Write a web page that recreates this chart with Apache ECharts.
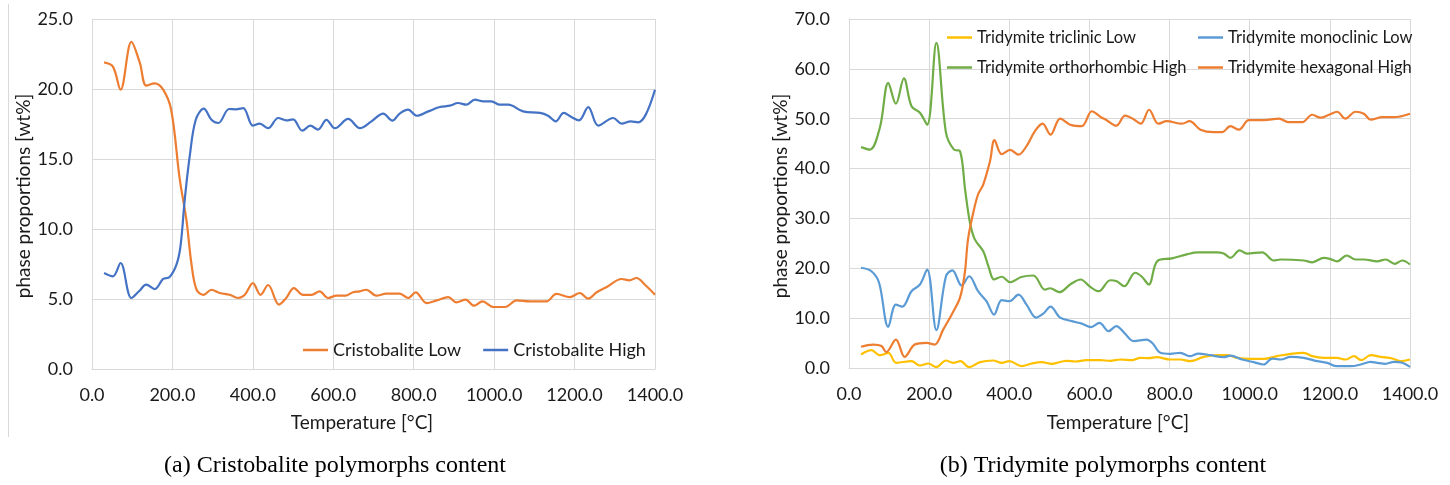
<!DOCTYPE html>
<html>
<head>
<meta charset="utf-8">
<title>Cristobalite and tridymite polymorphs content</title>
<script src="https://cdn.jsdelivr.net/npm/echarts@6/dist/echarts.min.js"></script>
<style>
  html, body { margin: 0; padding: 0; background: #ffffff; }
  #chart { width: 1450px; height: 485px; }
</style>
</head>
<body>
<div id="chart"></div>
<script>
// ---- Cristobalite (panel a) ----
const crisLowT = [30, 52, 71, 98, 119, 135, 156, 177, 197, 218, 235, 247, 260, 278, 297, 318, 342, 363, 380, 400, 419, 438, 465, 483, 502, 525, 546, 566, 587, 608, 630, 649, 666, 682, 707, 732, 765, 786, 805, 832, 857, 886, 906, 929, 950, 971, 998, 1027, 1056, 1089, 1130, 1155, 1188, 1213, 1234, 1255, 1280, 1317, 1336, 1354, 1375, 1400];
const crisLowV = [21.9, 21.6, 19.95, 23.36, 21.86, 20.24, 20.4, 19.95, 18.5, 13.6, 10.6, 7.57, 5.66, 5.3, 5.66, 5.43, 5.3, 5.07, 5.3, 6.14, 5.3, 6.0, 4.6, 5.07, 5.78, 5.3, 5.3, 5.55, 5.07, 5.24, 5.24, 5.48, 5.55, 5.66, 5.24, 5.38, 5.38, 5.07, 5.48, 4.71, 4.9, 5.14, 4.76, 4.95, 4.52, 4.83, 4.43, 4.43, 4.9, 4.83, 4.83, 5.36, 5.14, 5.43, 5.02, 5.48, 5.86, 6.43, 6.33, 6.5, 6.02, 5.3];

const crisHighT = [30, 52, 71, 98, 117, 135, 156, 177, 193, 210, 220, 231, 243, 258, 278, 297, 314, 341, 358, 376, 400, 417, 438, 463, 483, 500, 523, 543, 562, 583, 604, 637, 666, 695, 724, 747, 765, 786, 808, 836, 865, 890, 910, 931, 952, 973, 993, 1014, 1035, 1072, 1114, 1134, 1153, 1173, 1192, 1211, 1234, 1259, 1296, 1317, 1340, 1358, 1377, 1400];
const crisHighV = [6.86, 6.62, 7.57, 5.07, 5.55, 6.02, 5.71, 6.43, 6.57, 7.45, 8.76, 12.2, 15.2, 17.8, 18.6, 17.8, 17.57, 18.57, 18.55, 18.64, 17.38, 17.52, 17.2, 17.93, 17.76, 17.83, 17.02, 17.38, 17.1, 17.8, 17.2, 17.86, 17.2, 17.69, 18.24, 17.74, 18.24, 18.52, 18.09, 18.4, 18.71, 18.81, 19.0, 18.88, 19.24, 19.12, 19.12, 18.88, 18.88, 18.4, 18.29, 18.09, 17.69, 18.29, 18.0, 17.76, 18.71, 17.38, 17.93, 17.52, 17.69, 17.62, 18.17, 19.95];

// ---- Tridymite (panel b) ----
const triclinicT = [30, 56, 77, 98, 118, 156, 177, 198, 218, 242, 260, 278, 300, 327, 360, 381, 400, 431, 456, 481, 506, 543, 564, 593, 627, 652, 677, 706, 727, 748, 768, 802, 827, 852, 885, 918, 943, 968, 1002, 1035, 1068, 1102, 1135, 1156, 1185, 1218, 1239, 1260, 1278, 1302, 1327, 1356, 1377, 1400];
const triclinicV = [2.7, 3.57, 2.57, 3.05, 1.04, 1.37, 0.5, 0.9, 0.17, 1.5, 1.04, 1.37, 0.17, 1.17, 1.5, 1.04, 1.37, 0.37, 0.9, 1.17, 0.84, 1.44, 1.3, 1.57, 1.57, 1.44, 1.7, 1.57, 2.04, 1.97, 2.17, 1.7, 1.7, 1.37, 2.24, 2.57, 2.57, 2.04, 1.84, 1.84, 2.37, 2.85, 3.05, 2.37, 2.04, 2.04, 1.7, 2.37, 1.57, 2.57, 2.24, 1.9, 1.37, 1.7];

const monoclinicT = [30, 56, 75, 98, 117, 133, 156, 177, 195, 218, 242, 258, 281, 300, 322, 343, 362, 381, 400, 423, 443, 467, 485, 503, 527, 556, 581, 604, 625, 648, 667, 687, 710, 743, 758, 777, 802, 827, 850, 872, 902, 935, 952, 981, 1010, 1035, 1056, 1077, 1102, 1135, 1168, 1193, 1218, 1252, 1277, 1302, 1318, 1339, 1360, 1381, 1400];
const monoclinicV = [20.1, 19.4, 17.1, 8.26, 12.7, 12.3, 15.4, 16.75, 19.75, 7.6, 18.4, 19.6, 16.55, 18.4, 15.4, 13.4, 10.7, 13.6, 13.4, 14.7, 12.7, 10.1, 10.9, 12.3, 10.1, 9.4, 8.9, 8.2, 9.06, 7.4, 8.4, 7.06, 5.4, 5.7, 4.9, 3.05, 2.85, 3.05, 2.37, 2.9, 2.57, 2.17, 2.5, 1.7, 1.17, 0.7, 1.9, 1.7, 2.24, 2.04, 1.37, 1.04, 0.37, 0.37, 0.7, 1.24, 1.04, 0.84, 1.24, 1.04, 0.24];

const orthorhombicT = [30, 52, 77, 98, 117, 137, 156, 177, 195, 218, 242, 262, 277, 290, 302, 314, 335, 348, 362, 381, 402, 430, 460, 489, 502, 525, 552, 578, 600, 623, 652, 668, 687, 714, 731, 748, 770, 806, 843, 870, 918, 935, 952, 975, 993, 1031, 1060, 1077, 1135, 1156, 1185, 1200, 1218, 1242, 1264, 1285, 1318, 1339, 1362, 1381, 1400];
const orthorhombicV = [44.3, 43.8, 48.2, 57.2, 53.0, 58.1, 52.5, 51.2, 48.8, 65.2, 47.2, 43.8, 43.5, 35.6, 29.1, 25.8, 23.4, 20.4, 17.75, 18.3, 17.2, 18.25, 18.55, 15.7, 16.0, 15.2, 16.75, 17.75, 16.4, 15.4, 17.6, 17.4, 16.4, 19.1, 18.3, 16.75, 21.5, 22.0, 22.8, 23.2, 23.2, 22.96, 22.1, 23.6, 22.96, 23.2, 21.56, 21.76, 21.56, 21.2, 22.1, 21.9, 21.4, 22.56, 21.76, 21.76, 21.4, 21.76, 20.9, 21.56, 20.76];

const hexagonalT = [30, 60, 81, 93, 117, 139, 164, 193, 214, 235, 256, 277, 289, 297, 310, 322, 335, 352, 363, 381, 402, 423, 443, 464, 483, 503, 527, 552, 581, 606, 627, 643, 667, 689, 708, 728, 749, 772, 793, 831, 850, 877, 910, 931, 952, 973, 998, 1035, 1073, 1098, 1131, 1156, 1177, 1198, 1218, 1239, 1264, 1285, 1302, 1331, 1360, 1400];
const hexagonalV = [4.25, 4.7, 4.4, 3.2, 5.7, 2.24, 4.7, 5.05, 4.7, 7.7, 10.7, 14.1, 19.1, 25.8, 31.1, 34.8, 36.8, 41.5, 45.7, 42.9, 43.75, 42.8, 44.5, 47.5, 49.0, 46.8, 50.0, 48.8, 48.5, 51.5, 50.4, 49.7, 48.6, 50.6, 50.0, 49.0, 51.8, 49.0, 49.5, 49.0, 49.5, 47.8, 47.3, 47.3, 48.5, 47.8, 49.7, 49.7, 50.0, 49.3, 49.3, 50.8, 50.2, 50.8, 51.4, 50.0, 51.4, 51.0, 49.8, 50.3, 50.3, 51.0];

// Axis ranges
const xMin = 0, xMax = 1400, xStep = 200;
const yMaxA = 25, yStepA = 5;
const yMaxB = 70, yStepB = 10;

const pairs = (t, v) => t.map((x, i) => [x, v[i]]);

const FONT = 'Lato';
const TEXT = '#1a1a1a';
const GRIDLINE = '#d9d9d9';

function xAxis(gridIndex) {
  return {
    type: 'value', gridIndex, min: xMin, max: xMax, interval: xStep,
    axisLine: { show: true, lineStyle: { color: GRIDLINE, width: 1 } },
    axisTick: { show: false },
    splitLine: { show: true, lineStyle: { color: GRIDLINE, width: 1 } },
    axisLabel: { color: TEXT, fontFamily: FONT, fontSize: 18, margin: 17,
                 formatter: v => v.toFixed(1) }
  };
}
function yAxis(gridIndex, max, step) {
  return {
    type: 'value', gridIndex, min: 0, max, interval: step,
    axisLine: { show: true, lineStyle: { color: GRIDLINE, width: 1 } },
    axisTick: { show: false },
    splitLine: { show: true, lineStyle: { color: GRIDLINE, width: 1 } },
    axisLabel: { color: TEXT, fontFamily: FONT, fontSize: 18, margin: 19,
                 formatter: v => v.toFixed(1) }
  };
}
function line(name, xi, yi, data, color) {
  return {
    name, type: 'line', xAxisIndex: xi, yAxisIndex: yi, data,
    smooth: 0.35, symbol: 'none', showSymbol: false,
    lineStyle: { color, width: 2.2 }, itemStyle: { color },
    animation: false
  };
}
const legendBase = {
  icon: 'rect', itemWidth: 25, itemHeight: 2.5, selectedMode: false
};

const chart = echarts.init(document.getElementById('chart'), null, { renderer: 'canvas' });
chart.setOption({
  backgroundColor: '#ffffff',
  animation: false,
  grid: [
    { left: 92, top: 19, width: 563, height: 350 },
    { left: 849, top: 19, width: 561, height: 349 }
  ],
  xAxis: [xAxis(0), xAxis(1)],
  yAxis: [yAxis(0, yMaxA, yStepA), yAxis(1, yMaxB, yStepB)],
  legend: [
    Object.assign({}, legendBase, {
      data: ['Cristobalite Low', 'Cristobalite High'], left: 298, top: 336,
      orient: 'horizontal', itemGap: 22,
      textStyle: { color: TEXT, fontFamily: FONT, fontSize: 18 } }),
    Object.assign({}, legendBase, {
      data: ['Tridymite triclinic Low', 'Tridymite orthorhombic High'], left: 942, top: 24,
      orient: 'vertical', itemGap: 13,
      textStyle: { color: TEXT, fontFamily: FONT, fontSize: 16.5 } }),
    Object.assign({}, legendBase, {
      data: ['Tridymite monoclinic Low', 'Tridymite hexagonal High'], left: 1193, top: 24,
      orient: 'vertical', itemGap: 13,
      textStyle: { color: TEXT, fontFamily: FONT, fontSize: 16.5 } })
  ],
  series: [
    line('Cristobalite Low', 0, 0, pairs(crisLowT, crisLowV), '#ED7D31'),
    line('Cristobalite High', 0, 0, pairs(crisHighT, crisHighV), '#4472C4'),
    line('Tridymite triclinic Low', 1, 1, pairs(triclinicT, triclinicV), '#FFC000'),
    line('Tridymite monoclinic Low', 1, 1, pairs(monoclinicT, monoclinicV), '#5B9BD5'),
    line('Tridymite orthorhombic High', 1, 1, pairs(orthorhombicT, orthorhombicV), '#70AD47'),
    line('Tridymite hexagonal High', 1, 1, pairs(hexagonalT, hexagonalV), '#ED7D31')
  ],
  graphic: [
    { type: 'line', shape: { x1: 8.5, y1: 4, x2: 8.5, y2: 437 },
      style: { stroke: GRIDLINE, lineWidth: 1 } },
    { type: 'text', x: 24, y: 196, rotation: Math.PI / 2,
      style: { text: 'phase proportions [wt%]', fill: TEXT, font: '19px ' + FONT,
               textAlign: 'center', textVerticalAlign: 'middle' } },
    { type: 'text', x: 781, y: 196, rotation: Math.PI / 2,
      style: { text: 'phase proportions [wt%]', fill: TEXT, font: '19px ' + FONT,
               textAlign: 'center', textVerticalAlign: 'middle' } },
    { type: 'text', x: 362, y: 423,
      style: { text: 'Temperature [°C]', fill: TEXT, font: '19px ' + FONT,
               textAlign: 'center', textVerticalAlign: 'middle' } },
    { type: 'text', x: 1118, y: 423,
      style: { text: 'Temperature [°C]', fill: TEXT, font: '19px ' + FONT,
               textAlign: 'center', textVerticalAlign: 'middle' } },
    { type: 'text', x: 335, y: 466,
      style: { text: '(a) Cristobalite polymorphs content', fill: '#000000',
               font: '24px "Liberation Serif"', textAlign: 'center', textVerticalAlign: 'middle' } },
    { type: 'text', x: 1103, y: 466,
      style: { text: '(b) Tridymite polymorphs content', fill: '#000000',
               font: '24px "Liberation Serif"', textAlign: 'center', textVerticalAlign: 'middle' } }
  ]
});
</script>
</body>
</html>
